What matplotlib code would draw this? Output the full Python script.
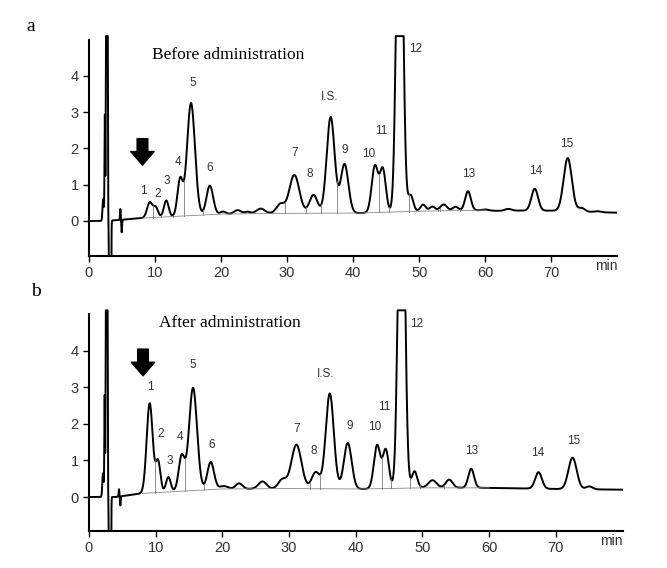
import numpy as np
import matplotlib
matplotlib.use('Agg')
import matplotlib.pyplot as plt

# ==============================
# DATA
# ==============================

# time axis (min) used to draw the detector trace
t = np.linspace(0, 80, 8001)

# --- panel a : before administration ---
a_base_t = [0, 2, 4, 8, 15, 20, 25, 31, 36, 41, 48, 57, 62, 67, 72, 77, 80]
a_base_y = [0, 0, 0.02, 0.08, 0.15, 0.19, 0.21, 0.22, 0.22, 0.22, 0.26, 0.30, 0.28, 0.29, 0.28, 0.24, 0.23]
a_rt = [2.15, 2.4, 2.7, 3.2, 4.75, 4.95,
        9.2, 10.1, 11.7, 13.8, 15.45, 18.3, 20.3, 22.5, 24.0, 26.0, 29.0,
        31.1, 34.0, 36.6, 38.7, 43.3, 44.5, 47.05, 48.7, 50.6, 52.0, 53.7, 55.5,
        57.4, 60.0, 63.5, 67.5, 72.5, 74.6, 77.0]
a_height = [0.6, 2.9, 60, -60, 0.3, -0.35,
            0.42, 0.27, 0.45, 1.0, 3.1, 0.8, 0.07, 0.1, 0.05, 0.13, 0.25,
            1.05, 0.5, 2.65, 1.35, 1.28, 1.18, 12.0, 0.45, 0.18, 0.12, 0.17, 0.1,
            0.52, 0.03, 0.05, 0.6, 1.46, 0.1, 0.03]
a_sigma = [0.1, 0.05, 0.07, 0.07, 0.05, 0.05,
           0.4, 0.35, 0.35, 0.4, 0.6, 0.5, 0.4, 0.5, 0.4, 0.6, 0.6,
           0.75, 0.6, 0.6, 0.58, 0.48, 0.45, 0.45, 0.4, 0.4, 0.4, 0.5, 0.4,
           0.43, 0.5, 0.5, 0.5, 0.62, 0.5, 0.5]
a_int_t = [8, 20, 30, 41, 50, 60]
a_int_y = [0.08, 0.19, 0.21, 0.22, 0.27, 0.30]
a_drops = [9.7, 10.9, 12.7, 14.4, 17.3, 29.7, 32.9, 35.2, 37.6, 43.9, 45.5, 48.4, 49.9, 52.8, 53.1, 56.2]
a_labels = ['1', '2', '3', '4', '5', '6', '7', '8', 'I.S.', '9', '10', '11', '12', '13', '14', '15']
a_label_x = [8.2, 10.35, 11.8, 13.5, 15.75, 18.35, 31.1, 33.5, 36.4, 38.7, 42.4, 44.2, 49.4, 57.5, 67.6, 72.3]
a_label_y = [0.84, 0.74, 1.11, 1.63, 3.82, 1.46, 1.87, 1.30, 3.42, 1.95, 1.85, 2.47, 4.75, 1.30, 1.39, 2.11]

# --- panel b : after administration ---
b_base_t = [0, 2, 4, 8, 15, 20, 30, 36, 41, 50, 60, 70, 80]
b_base_y = [0, 0, 0.0, 0.1, 0.18, 0.22, 0.23, 0.23, 0.22, 0.26, 0.25, 0.22, 0.2]
b_rt = [2.1, 2.35, 2.65, 3.15, 4.5, 4.7,
        9.1, 10.35, 11.9, 13.9, 15.6, 18.25, 20.2, 22.5, 26.0, 29.0,
        31.1, 34.0, 36.1, 38.8, 43.2, 44.5, 46.85, 48.8, 51.5, 54.0,
        57.3, 67.4, 72.5, 75.0]
b_height = [0.65, 2.75, 60, -60, 0.2, -0.25,
            2.45, 0.85, 0.4, 0.95, 2.8, 0.75, 0.08, 0.15, 0.2, 0.25,
            1.2, 0.45, 2.6, 1.25, 1.18, 1.05, 12.0, 0.45, 0.2, 0.22,
            0.52, 0.45, 0.86, 0.08]
b_sigma = [0.1, 0.05, 0.07, 0.07, 0.05, 0.05,
           0.45, 0.35, 0.35, 0.45, 0.6, 0.5, 0.6, 0.5, 0.6, 0.6,
           0.75, 0.6, 0.6, 0.58, 0.48, 0.45, 0.45, 0.4, 0.6, 0.5,
           0.43, 0.5, 0.62, 0.5]
b_int_t = [8, 20, 30, 41, 50, 60]
b_int_y = [0.1, 0.22, 0.23, 0.22, 0.25, 0.25]
b_drops = [9.85, 14.4, 17.2, 33.1, 34.6, 44.0, 45.3, 48.2, 49.6, 53.3, 56.0]
b_labels = a_labels
b_label_x = [9.2, 10.75, 12.1, 13.6, 15.55, 18.45, 31.1, 33.7, 35.5, 39.1, 42.9, 44.3, 49.1, 57.4, 67.2, 72.7]
b_label_y = [3.0, 1.72, 0.99, 1.65, 3.6, 1.43, 1.86, 1.26, 3.35, 1.94, 1.92, 2.45, 4.73, 1.26, 1.19, 1.54]


def trace(base_t, base_y, rt, h, s):
    y = np.interp(t, base_t, base_y)
    for c, hh, ss in zip(rt, h, s):
        y = y + hh * np.exp(-(t - c) ** 2 / (2 * ss ** 2))
    return np.clip(y, -2, 5.1)


def draw(ax, y, int_t, int_y, drops, labels, lx, ly, ylo, arrow_y, title, title_pos, letter, letter_pos):
    ax.plot(t, y, color='black', lw=1.4)
    # integration baseline + drop lines
    ax.plot(int_t, int_y, color='#888888', lw=0.6)
    for d in drops:
        ax.plot([d, d], [np.interp(d, int_t, int_y), np.interp(d, t, y)], color='#777777', lw=0.6)
    for s, x, yy in zip(labels, lx, ly):
        ax.text(x, yy, s, ha='center', va='center', fontsize=8.5, color='#333333',
                family='Liberation Sans')
    ax.annotate('', xy=(8.1, arrow_y[1]), xytext=(8.1, arrow_y[0]),
                arrowprops=dict(arrowstyle='simple,head_length=0.7,head_width=1.2,tail_width=0.55',
                                color='black', shrinkA=0, shrinkB=0, mutation_scale=14))
    ax.text(title_pos[0], title_pos[1], title, transform=ax.transAxes, va='center',
            fontsize=12.5, family='Liberation Serif')
    ax.text(letter_pos[0], letter_pos[1], letter, transform=ax.transAxes, ha='center', va='center',
            fontsize=14, family='Liberation Serif')
    ax.text(1.0, -0.045, 'min', transform=ax.transAxes, ha='right', va='center', fontsize=10,
            color='#333333', family='Liberation Sans')

    ax.set_xlim(0, 80)
    ax.set_ylim(ylo, 5.2)
    ax.spines['top'].set_visible(False)
    ax.spines['right'].set_visible(False)
    ax.spines['left'].set_bounds(ylo, 5.0)
    ax.spines['left'].set_linewidth(1.5)
    ax.spines['bottom'].set_linewidth(1.5)
    ax.set_xticks(range(0, 80, 10))
    ax.set_yticks(range(0, 5))
    ax.tick_params(length=4, width=1, labelsize=10.5, labelcolor='#333333')
    for lab in ax.get_xticklabels() + ax.get_yticklabels():
        lab.set_family('Liberation Sans')


fig = plt.figure(figsize=(6.67, 5.68), dpi=100)
ax1 = fig.add_axes([0.1334, 0.5493, 0.792, 0.3935])
ax2 = fig.add_axes([0.1334, 0.0657, 0.800, 0.3944])

ya = trace(a_base_t, a_base_y, a_rt, a_height, a_sigma)
yb = trace(b_base_t, b_base_y, b_rt, b_height, b_sigma)

draw(ax1, ya, a_int_t, a_int_y, a_drops, a_labels, a_label_x, a_label_y, -0.966, (2.27, 1.54),
     'Before administration', (0.12, 0.899), 'a', (-0.11, 1.029))
draw(ax2, yb, b_int_t, b_int_y, b_drops, b_labels, b_label_x, b_label_y, -0.92, (4.04, 3.31),
     'After administration', (0.131, 0.927), 'b', (-0.0995, 1.066))

fig.savefig('out.png', dpi=100)
